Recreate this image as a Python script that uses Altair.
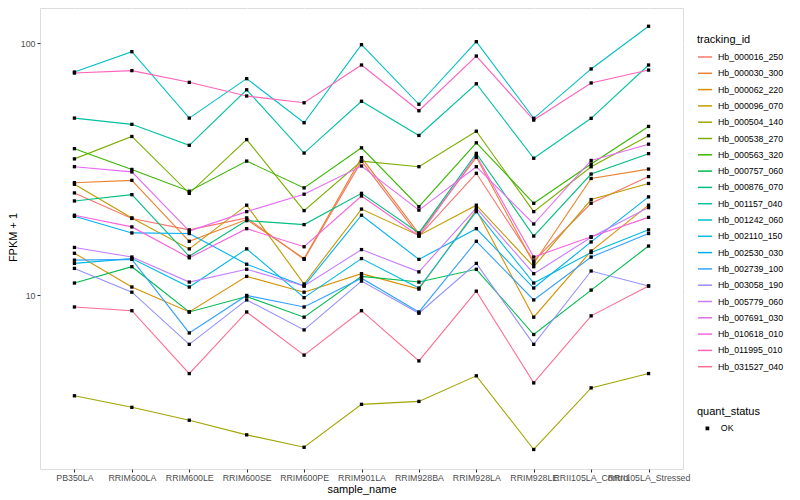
import altair as alt
import pandas as pd

samples = ["PB350LA", "RRIM600LA", "RRIM600LE", "RRIM600SE", "RRIM600PE",
           "RRIM901LA", "RRIM928BA", "RRIM928LA", "RRIM928LE",
           "RRII105LA_Control", "RRII105LA_Stressed"]

tracking_ids = ["Hb_000016_250", "Hb_000030_300", "Hb_000062_220", "Hb_000096_070",
                "Hb_000504_140", "Hb_000538_270", "Hb_000563_320", "Hb_000757_060",
                "Hb_000876_070", "Hb_001157_040", "Hb_001242_060", "Hb_002110_150",
                "Hb_002530_030", "Hb_002739_100", "Hb_003058_190", "Hb_005779_060",
                "Hb_007691_030", "Hb_010618_010", "Hb_011995_010", "Hb_031527_040"]

hb_000016_250 = [25.5, 20.2, 18.2, 20.3, 13.9, 34.1, 17.2, 30.5, 13.7, 23.2, 29.6]
hb_000030_300 = [28.0, 28.6, 16.4, 20.0, 14.0, 35.2, 17.6, 35.3, 13.4, 29.1, 31.7]
hb_000062_220 = [14.7, 10.8, 8.6, 11.9, 10.3, 12.2, 10.6, 21.8, 8.2, 15.0, 22.8]
hb_000096_070 = [27.6, 20.3, 15.3, 22.8, 11.1, 22.0, 17.3, 22.8, 13.0, 24.0, 27.8]
hb_000504_140 = [4.0, 3.6, 3.2, 2.8, 2.5, 3.7, 3.8, 4.8, 2.45, 4.3, 4.9]
hb_000538_270 = [34.8, 42.7, 25.4, 41.5, 21.7, 34.1, 32.4, 44.8, 21.5, 32.4, 43.0]
hb_000563_320 = [38.2, 31.6, 25.9, 34.1, 26.7, 38.5, 22.5, 40.3, 23.2, 33.2, 46.8]
hb_000757_060 = [11.2, 13.0, 8.6, 9.9, 8.2, 11.9, 11.3, 12.7, 7.0, 10.5, 15.7]
hb_000876_070 = [23.7, 25.1, 14.3, 19.8, 19.1, 25.4, 17.7, 36.6, 17.2, 30.3, 36.5]
hb_001157_040 = [50.5, 47.7, 39.4, 65.4, 36.7, 58.9, 43.1, 69.1, 35.0, 50.4, 82.0]
hb_001242_060 = [76.9, 92.6, 50.5, 72.4, 48.4, 98.7, 57.3, 101.5, 50.4, 79.1, 116.8]
hb_002110_150 = [13.4, 14.0, 10.8, 15.3, 9.8, 14.0, 10.7, 21.5, 11.2, 14.8, 18.2]
hb_002530_030 = [20.6, 17.7, 17.6, 13.3, 10.9, 20.8, 13.9, 18.4, 10.7, 16.3, 24.6]
hb_002739_100 = [13.8, 13.9, 7.1, 10.0, 9.0, 11.7, 8.6, 16.4, 9.6, 14.2, 17.6]
hb_003058_190 = [12.8, 10.3, 6.4, 9.6, 7.3, 11.4, 8.5, 13.4, 6.4, 12.5, 10.9]
hb_005779_060 = [15.5, 14.2, 11.3, 12.7, 10.9, 15.2, 12.4, 22.2, 12.2, 17.0, 22.3]
hb_007691_030 = [32.4, 30.9, 18.0, 21.5, 25.2, 32.6, 21.8, 32.4, 19.2, 34.3, 39.8]
hb_010618_010 = [20.8, 18.7, 14.1, 18.4, 15.6, 24.8, 17.2, 35.9, 14.2, 17.1, 20.4]
hb_011995_010 = [76.2, 77.9, 70.0, 61.8, 58.1, 82.0, 54.0, 89.0, 49.6, 69.6, 78.3]
hb_031527_040 = [9.0, 8.7, 4.9, 8.6, 5.8, 8.7, 5.5, 10.4, 4.5, 8.3, 10.9]

series = [hb_000016_250, hb_000030_300, hb_000062_220, hb_000096_070, hb_000504_140,
          hb_000538_270, hb_000563_320, hb_000757_060, hb_000876_070, hb_001157_040,
          hb_001242_060, hb_002110_150, hb_002530_030, hb_002739_100, hb_003058_190,
          hb_005779_060, hb_007691_030, hb_010618_010, hb_011995_010, hb_031527_040]

palette = ["#F8766D", "#EA8331", "#D89000", "#C09B00", "#A3A500", "#7CAE00", "#39B600",
           "#00BB4E", "#00BF7D", "#00C1A3", "#00BFC4", "#00BAE0", "#00B0F6", "#35A2FF",
           "#9590FF", "#C77CFF", "#E76BF3", "#FA62DB", "#FF62BC", "#FF6C91"]

rows = []
for tid, vals in zip(tracking_ids, series):
    for i, (s, v) in enumerate(zip(samples, vals)):
        rows.append({"tracking_id": tid, "sample_name": s, "idx": i,
                     "fpkm1": v, "quant_status": "OK"})
df = pd.DataFrame(rows)

FONT = "Liberation Sans"
major = "datum.value == 10 || datum.value == 100"

x_enc = alt.X(
    "sample_name:N", sort=samples,
    scale=alt.Scale(type="point", padding=0.6),
    axis=alt.Axis(title="sample_name", labelAngle=0, labelOverlap=False, labelBound=False,
                  labelPadding=1, tickSize=3, tickColor="#333333", tickWidth=1.07,
                  domain=False, grid=True, gridColor="white", gridWidth=1.07,
                  labelColor="#4D4D4D", labelFontSize=8.8, labelFont=FONT,
                  titleFont=FONT, titleFontSize=11, titleFontWeight="normal", titleColor="black",
                  titleX=321.5, titleY=20, titleBaseline="middle"),
)
y_enc = alt.Y(
    "fpkm1:Q",
    scale=alt.Scale(type="log", domain=[2.05, 138], nice=False, zero=False),
    axis=alt.Axis(title="FPKM + 1", values=[3.1623, 10, 31.623, 100],
                  labelExpr="datum.value == 10 ? '10' : (datum.value == 100 ? '100' : '')",
                  tickSize=3, tickColor="#333333", tickWidth=1.07,
                  tickOpacity={"condition": {"test": major, "value": 1}, "value": 0},
                  domain=False, grid=True, gridColor="white",
                  gridWidth={"condition": {"test": major, "value": 1.07}, "value": 0.55},
                  labelPadding=2, labelColor="#4D4D4D", labelFontSize=8.8, labelFont=FONT,
                  titleFont=FONT, titleFontSize=11, titleFontWeight="normal", titleColor="black",
                  titleX=-27, titleY=229, titleAngle=270, titleAlign="center",
                  titleBaseline="middle"),
)

lines = alt.Chart(df).mark_line(strokeWidth=1.1).encode(
    x=x_enc, y=y_enc,
    color=alt.Color("tracking_id:N", sort=tracking_ids,
                    scale=alt.Scale(domain=tracking_ids, range=palette),
                    legend=alt.Legend(title="tracking_id", orient="none", legendX=657, legendY=26,
                                      symbolType="stroke", symbolSize=196, symbolStrokeWidth=1.5,
                                      labelFontSize=8.8, labelFont=FONT, labelColor="black",
                                      labelOffset=5, labelLimit=200, titleFont=FONT, titleFontSize=11,
                                      titleFontWeight="normal", titleColor="black",
                                      titlePadding=4, rowPadding=3.3, padding=0)),
    order=alt.Order("idx:Q"),
)

points = alt.Chart(df).mark_point(filled=True, size=11, opacity=1).encode(
    x=alt.X("sample_name:N", sort=samples), y="fpkm1:Q",
    color=alt.value("black"),
    shape=alt.Shape("quant_status:N", scale=alt.Scale(domain=["OK"], range=["square"]),
                    legend=alt.Legend(title="quant_status", orient="none", legendX=657, legendY=398,
                                      symbolSize=14, symbolFillColor="black", symbolStrokeColor="black",
                                      symbolOffset=6, labelOffset=9,
                                      labelFontSize=8.8, labelFont=FONT, labelColor="black",
                                      titleFont=FONT, titleFontSize=11, titleFontWeight="normal",
                                      titleColor="black", titlePadding=7, padding=0)),
)

chart = alt.layer(lines, points).properties(
    width=643, height=461,
    padding={"left": 32, "top": 0, "right": 108, "bottom": 28},
    autosize="none",
).configure_view(fill="#EBEBEB", stroke=None).configure(background="white")

chart.save("out.html", embed_options={"renderer": "svg", "actions": False})
